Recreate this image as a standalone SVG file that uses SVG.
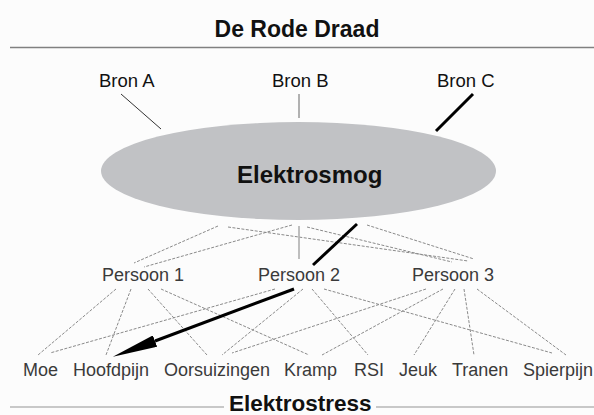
<svg xmlns="http://www.w3.org/2000/svg" width="594" height="415" viewBox="0 0 594 415">
<defs>
<style>
.title{font-family:"Liberation Sans",Arial,sans-serif;font-weight:bold;fill:#111}
.bron{font-family:"Liberation Sans",Arial,sans-serif;font-size:18.5px;fill:#111}
.lbl{font-family:"Liberation Sans",Arial,sans-serif;font-size:18px;fill:#3a3a3a}
.dash{stroke:#8a8a8a;stroke-width:1;stroke-dasharray:3 1.5;fill:none}
.thick{stroke:#000;stroke-width:3;fill:none}
</style>
<marker id="ah" viewBox="0 0 45 12" refX="0" refY="6" markerWidth="45" markerHeight="12" markerUnits="userSpaceOnUse" orient="auto">
<path d="M0,0 L45,6 L0,12 z" fill="#000"/>
</marker>
</defs>
<rect width="594" height="415" fill="#fcfcfc"/>
<g id="header">
<text class="title" x="297" y="37" font-size="23" text-anchor="middle">De Rode Draad</text>
<line x1="10" y1="47.5" x2="594" y2="47.5" stroke="#808080" stroke-width="1.5"/>
</g>
<g id="connectors">
<line x1="121" y1="94" x2="161" y2="129" stroke="#333" stroke-width="1"/>
<line x1="299" y1="94" x2="299" y2="118" stroke="#999" stroke-width="1.5"/>
<line class="thick" x1="473" y1="94" x2="436" y2="131"/>
<line class="dash" x1="218" y1="226" x2="134" y2="263"/>
<line class="dash" x1="292" y1="225" x2="144" y2="267"/>
<line class="dash" x1="228" y1="227" x2="468" y2="261"/>
<line class="dash" x1="307" y1="227" x2="452" y2="262"/>
<line class="dash" x1="367" y1="225" x2="474" y2="259"/>
<line x1="299" y1="226" x2="299" y2="259" stroke="#aaa" stroke-width="1.5"/>
<line class="thick" x1="357" y1="224" x2="313" y2="265"/>
<line class="dash" x1="116" y1="289" x2="38" y2="355"/>
<line class="dash" x1="131" y1="289" x2="106" y2="355"/>
<line class="dash" x1="148" y1="289" x2="207" y2="355"/>
<line class="dash" x1="161" y1="289" x2="309" y2="355"/>
<line class="dash" x1="275" y1="289" x2="50" y2="353"/>
<line class="dash" x1="303" y1="289" x2="222" y2="355"/>
<line class="dash" x1="312" y1="289" x2="368" y2="355"/>
<line class="dash" x1="324" y1="289" x2="552" y2="353"/>
<line class="dash" x1="426" y1="289" x2="232" y2="353"/>
<line class="dash" x1="443" y1="289" x2="322" y2="355"/>
<line class="dash" x1="455" y1="289" x2="414" y2="355"/>
<line class="dash" x1="464" y1="289" x2="474" y2="355"/>
<line class="dash" x1="477" y1="289" x2="566" y2="355"/>
<line class="thick" x1="294" y1="289" x2="155" y2="341" marker-end="url(#ah)"/>
</g>
<g id="bron-a"><text class="bron" x="99" y="87">Bron A</text></g>
<g id="bron-b"><text class="bron" x="272" y="87">Bron B</text></g>
<g id="bron-c"><text class="bron" x="437" y="87">Bron C</text></g>
<g id="elektrosmog">
<ellipse cx="298.5" cy="171" rx="197.5" ry="49" fill="#c1c2c5"/>
<text class="title" x="237" y="183" font-size="24">Elektrosmog</text>
</g>
<g id="persoon-1"><text class="lbl" x="102" y="281">Persoon 1</text></g>
<g id="persoon-2"><text class="lbl" x="258" y="281">Persoon 2</text></g>
<g id="persoon-3"><text class="lbl" x="412" y="281">Persoon 3</text></g>
<g id="moe"><text class="lbl" x="23" y="376">Moe</text></g>
<g id="hoofdpijn"><text class="lbl" x="73" y="376">Hoofdpijn</text></g>
<g id="oorsuizingen"><text class="lbl" x="164" y="376">Oorsuizingen</text></g>
<g id="kramp"><text class="lbl" x="284" y="376">Kramp</text></g>
<g id="rsi"><text class="lbl" x="354" y="376">RSI</text></g>
<g id="jeuk"><text class="lbl" x="399" y="376">Jeuk</text></g>
<g id="tranen"><text class="lbl" x="452" y="376">Tranen</text></g>
<g id="spierpijn"><text class="lbl" x="523" y="376">Spierpijn</text></g>
<g id="footer">
<line x1="10" y1="407" x2="224" y2="407" stroke="#c8c8c8" stroke-width="2"/>
<line x1="376" y1="407" x2="594" y2="407" stroke="#c8c8c8" stroke-width="2"/>
<text class="title" x="229" y="411" font-size="22.5">Elektrostress</text>
</g>
</svg>
